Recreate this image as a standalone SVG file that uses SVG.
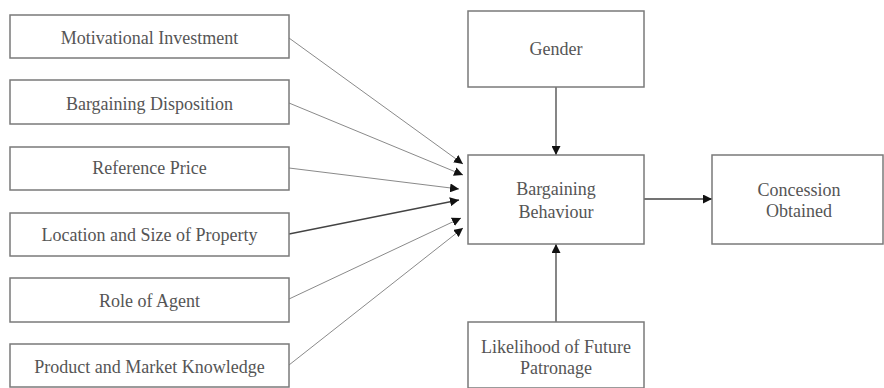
<svg xmlns="http://www.w3.org/2000/svg" width="884" height="388" viewBox="0 0 884 388">
  <style>
    .box { fill: #ffffff; stroke: #7a7a7a; stroke-width: 1.5; }
    .lbl { font-family: "Liberation Serif", "Times New Roman", serif; font-size: 18px; fill: #555555; text-anchor: middle; }
    .edge { stroke: #8a8a8a; stroke-width: 1; fill: none; marker-end: url(#arrow); }
    .edge-dark { stroke: #444444; stroke-width: 1.3; fill: none; marker-end: url(#arrow); }
  </style>
  <defs>
    <marker id="arrow" viewBox="0 0 10 10" refX="10" refY="5" markerWidth="9" markerHeight="9" markerUnits="userSpaceOnUse" orient="auto">
      <path d="M0,0 L10,5 L0,10 Z" fill="#111111"/>
    </marker>
  </defs>
  <rect width="884" height="388" fill="#ffffff"/>

  <!-- all arrows converge on the central behaviour box -->
  <g id="connectors">
    <line class="edge" x1="289" y1="38" x2="463" y2="164"/>
    <line class="edge" x1="289" y1="103" x2="463" y2="175"/>
    <line class="edge" x1="289" y1="168" x2="459" y2="189"/>
    <line class="edge-dark" x1="289" y1="234" x2="459" y2="200"/>
    <line class="edge" x1="289" y1="299" x2="461" y2="218"/>
    <line class="edge" x1="289" y1="365" x2="463" y2="228"/>
    <line class="edge-dark" x1="556" y1="87" x2="556" y2="155"/>
    <line class="edge-dark" x1="556" y1="322" x2="556" y2="244"/>
    <line class="edge-dark" x1="644" y1="199" x2="712" y2="199"/>
  </g>

  <g id="motivational-investment">
    <rect class="box" x="10" y="15" width="279" height="43"/>
    <text class="lbl" x="149.5" y="43.5">Motivational Investment</text>
  </g>
  <g id="bargaining-disposition">
    <rect class="box" x="10" y="80" width="279" height="44"/>
    <text class="lbl" x="149.5" y="109.5">Bargaining Disposition</text>
  </g>
  <g id="reference-price">
    <rect class="box" x="10" y="147" width="279" height="43"/>
    <text class="lbl" x="149.5" y="174">Reference Price</text>
  </g>
  <g id="location-size">
    <rect class="box" x="10" y="213" width="279" height="43"/>
    <text class="lbl" x="149.5" y="241">Location and Size of Property</text>
  </g>
  <g id="role-of-agent">
    <rect class="box" x="10" y="278" width="279" height="44"/>
    <text class="lbl" x="149.5" y="307">Role of Agent</text>
  </g>
  <g id="product-market-knowledge">
    <rect class="box" x="10" y="344" width="279" height="43"/>
    <text class="lbl" x="149.5" y="373">Product and Market Knowledge</text>
  </g>

  <g id="gender">
    <rect class="box" x="468" y="11" width="176" height="76"/>
    <text class="lbl" x="556" y="55">Gender</text>
  </g>
  <g id="bargaining-behaviour">
    <rect class="box" x="468" y="155" width="176" height="89"/>
    <text class="lbl" x="556" y="195">Bargaining</text>
    <text class="lbl" x="556" y="218">Behaviour</text>
  </g>
  <g id="likelihood-future-patronage">
    <rect class="box" x="468" y="322" width="176" height="66"/>
    <text class="lbl" x="556" y="353">Likelihood of Future</text>
    <text class="lbl" x="556" y="374">Patronage</text>
  </g>
  <g id="concession-obtained">
    <rect class="box" x="712" y="155" width="171" height="89"/>
    <text class="lbl" x="799" y="196">Concession</text>
    <text class="lbl" x="799" y="217">Obtained</text>
  </g>
</svg>
